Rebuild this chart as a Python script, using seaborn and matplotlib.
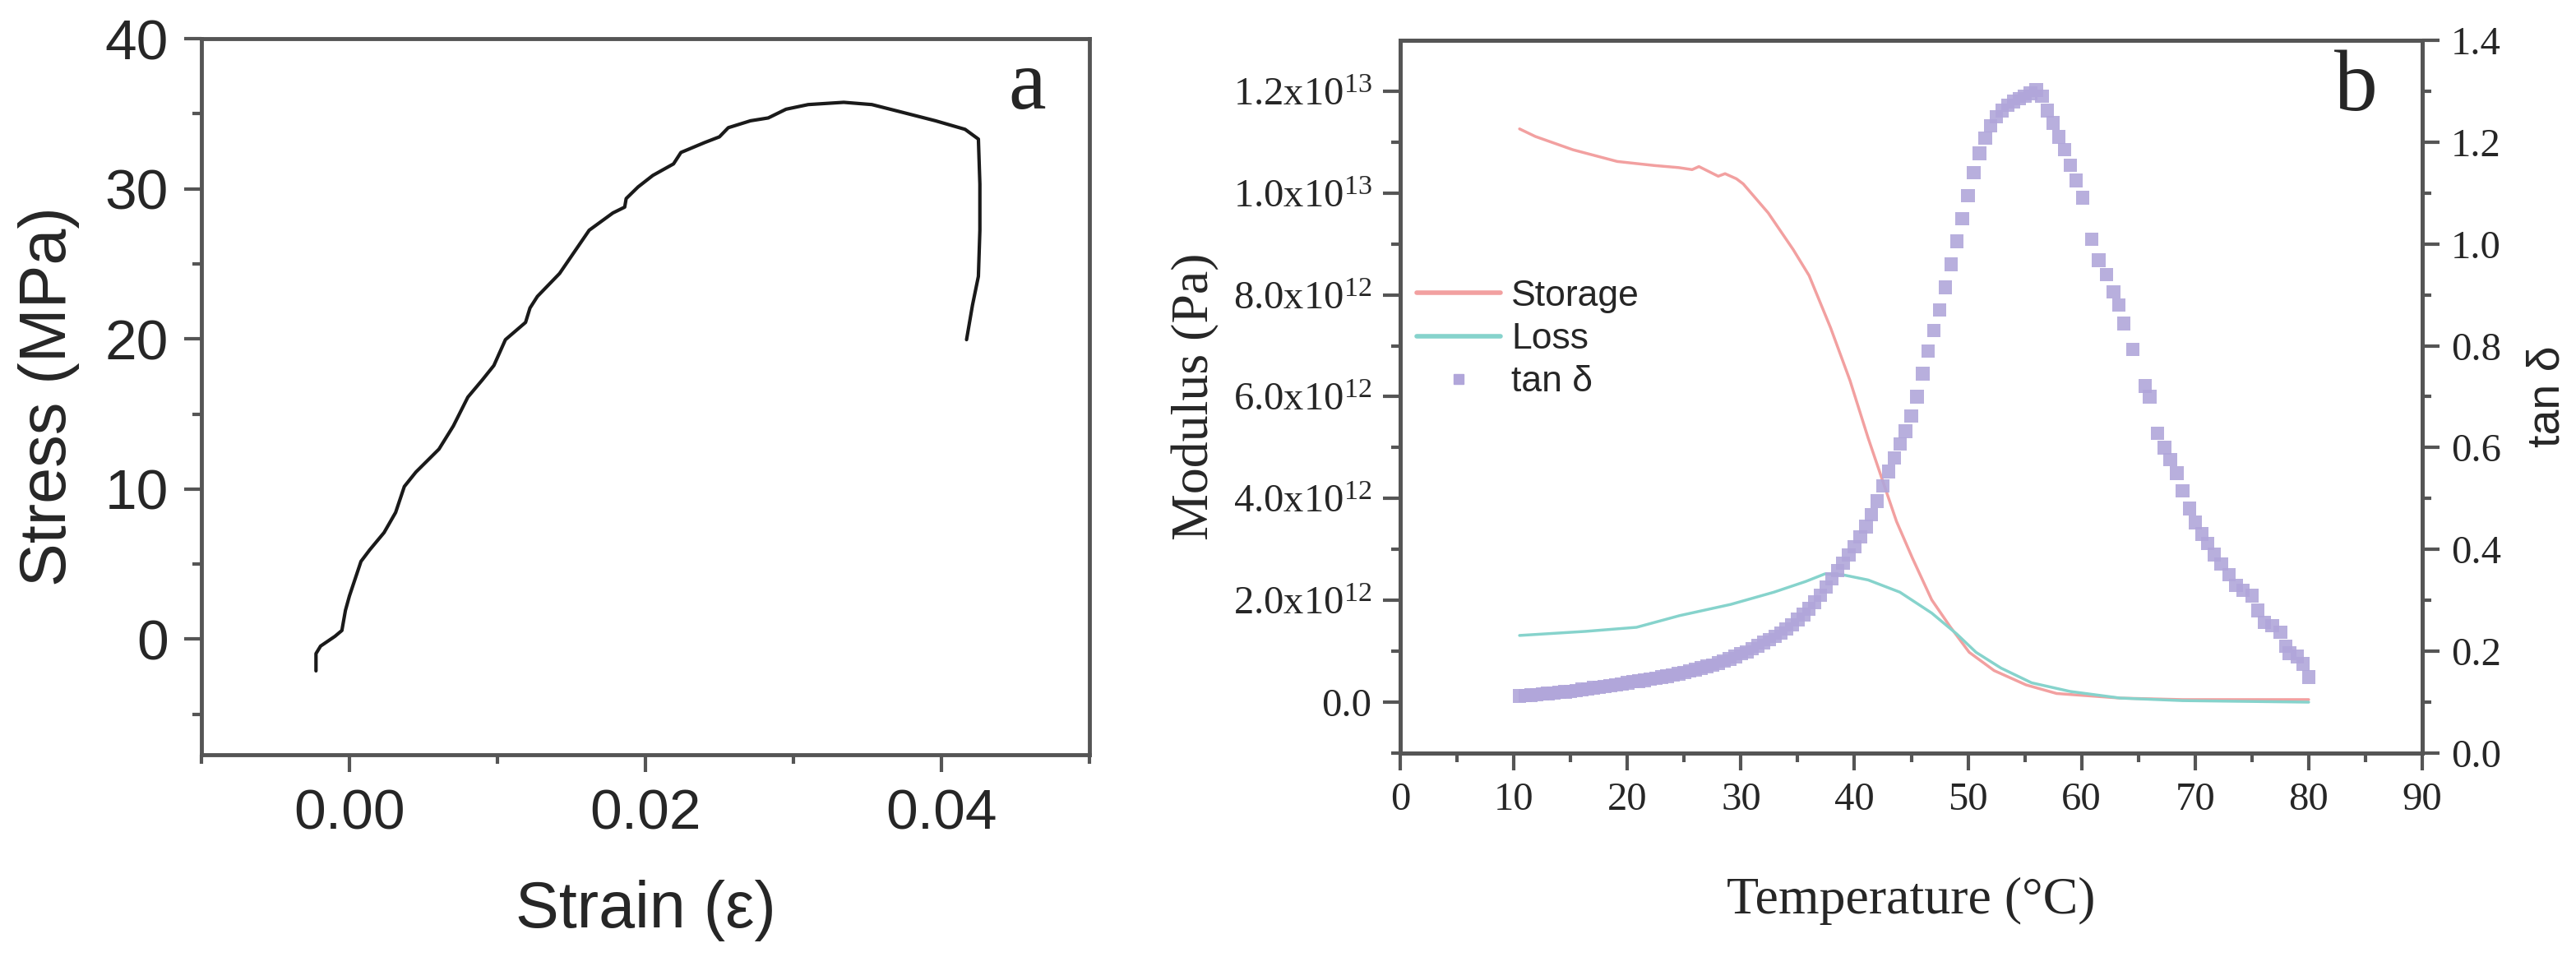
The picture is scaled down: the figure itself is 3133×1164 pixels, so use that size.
import numpy as np
import pandas as pd
import seaborn as sns
import matplotlib.pyplot as plt
from matplotlib.lines import Line2D

# panel a: stress-strain curve
strain = [-0.00226, -0.00226, -0.00195, -0.00098, -0.00051, -0.00027, 0.0, 0.00039,
          0.00078, 0.00137, 0.00234, 0.00312, 0.00371, 0.00449, 0.00605, 0.00702,
          0.00800, 0.00898, 0.00976, 0.01054, 0.0119, 0.0122, 0.0127, 0.0142,
          0.0162, 0.0178, 0.0186, 0.0187, 0.0195, 0.0205, 0.0219, 0.0224,
          0.0240, 0.0250, 0.0256, 0.0271, 0.0283, 0.0295, 0.0310, 0.0334,
          0.0353, 0.0373, 0.0396, 0.0416, 0.0425, 0.0426, 0.0426, 0.0425,
          0.0421, 0.0417]
stress = [-2.11, -0.96, -0.46, 0.19, 0.58, 1.92, 2.88, 4.03,
          5.18, 5.95, 7.10, 8.44, 10.17, 11.13, 12.66, 14.20,
          16.12, 17.27, 18.23, 19.95, 21.1, 22.06, 22.83, 24.36,
          27.24, 28.39, 28.78, 29.35, 30.12, 30.89, 31.66, 32.42,
          33.08, 33.46, 34.07, 34.53, 34.72, 35.30, 35.61, 35.76,
          35.61, 35.11, 34.53, 33.96, 33.31, 30.31, 27.24, 24.17,
          22.25, 19.95]

# panel b: DMA, modulus in units of 1e12 Pa
temp_storage = [10.5, 11.9, 15.2, 19.1, 22.4, 24.5, 25.7, 26.3, 28.0, 28.6, 29.6, 30.2,
                32.4, 34.6, 36.0, 37.9, 39.6, 41.2, 42.6, 43.7, 45.1, 46.8,
                48.4, 50.1, 52.3, 55.1, 57.8, 63.4, 68.9, 80.0]
storage = [11.26, 11.11, 10.85, 10.62, 10.54, 10.50, 10.46, 10.52, 10.33, 10.38, 10.28, 10.18,
           9.61, 8.89, 8.38, 7.35, 6.32, 5.19, 4.27, 3.55, 2.83, 2.01,
           1.49, 0.98, 0.62, 0.34, 0.17, 0.08, 0.05, 0.05]
temp_loss = [10.5, 16.3, 20.8, 24.6, 29.1, 32.9, 35.7, 37.4, 39.0, 41.2, 44.0, 46.8,
             49.0, 50.7, 52.9, 55.6, 59.0, 63.4, 68.9, 80.0]
loss = [1.31, 1.39, 1.47, 1.70, 1.92, 2.16, 2.37, 2.52, 2.50, 2.40, 2.16, 1.75,
        1.34, 0.98, 0.67, 0.38, 0.21, 0.08, 0.03, 0.0]
temp_tan = [10.5, 11.0, 11.5, 12.0, 12.5, 13.0, 13.5, 14.0, 14.5, 15.0, 15.5, 16.0,
            16.5, 17.0, 17.5, 18.0, 18.5, 19.0, 19.5, 20.0, 20.5, 21.0, 21.5, 22.0,
            22.5, 23.0, 23.5, 24.0, 24.5, 25.0, 25.5, 26.0, 26.5, 27.0, 27.5, 28.0,
            28.5, 29.0, 29.5, 30.0, 30.5, 31.0, 31.5, 32.0, 32.5, 33.0, 33.5, 34.0,
            34.5, 35.0, 35.5, 36.0, 36.5, 37.0, 37.5, 38.0, 38.5, 39.0, 39.5, 40.0,
            40.5, 41.0, 41.5, 42.0, 42.5, 43.0, 43.5, 44.0, 44.5, 45.0, 45.5, 46.0,
            46.5, 47.0, 47.5, 48.0, 48.5, 49.0, 49.5, 50.0, 50.5, 51.0, 51.5, 52.0,
            52.5, 53.0, 53.5, 54.0, 54.5, 55.0, 55.5, 56.0, 56.5, 57.0, 57.5, 58.0,
            58.5, 59.0, 59.5, 60.1, 60.9, 61.5, 62.2, 62.8, 63.3, 63.7, 64.5, 65.6,
            66.0, 66.7, 67.3, 67.8, 68.4, 68.9, 69.5, 70.0, 70.6, 71.1, 71.7, 72.3,
            73.0, 73.6, 74.2, 75.0, 75.5, 76.1, 76.8, 77.5, 78.0, 78.3, 79.0, 79.5, 80.0]
tan_delta = [0.112, 0.113, 0.114, 0.115, 0.116, 0.117, 0.118, 0.119, 0.120, 0.121, 0.123, 0.125,
             0.126, 0.128, 0.129, 0.131, 0.132, 0.134, 0.136, 0.138, 0.140, 0.141, 0.143, 0.145,
             0.147, 0.149, 0.151, 0.153, 0.156, 0.158, 0.161, 0.164, 0.167, 0.170, 0.173, 0.177,
             0.181, 0.185, 0.190, 0.195, 0.199, 0.205, 0.211, 0.217, 0.223, 0.229, 0.236, 0.244,
             0.252, 0.262, 0.272, 0.283, 0.296, 0.310, 0.326, 0.342, 0.358, 0.373, 0.389, 0.405,
             0.425, 0.445, 0.468, 0.495, 0.525, 0.553, 0.580, 0.607, 0.632, 0.662, 0.700, 0.745,
             0.790, 0.830, 0.870, 0.915, 0.960, 1.005, 1.050, 1.095, 1.140, 1.178, 1.208, 1.232,
             1.250, 1.262, 1.272, 1.280, 1.285, 1.290, 1.296, 1.302, 1.290, 1.262, 1.238, 1.210,
             1.185, 1.155, 1.125, 1.091, 1.009, 0.968, 0.940, 0.906, 0.880, 0.844, 0.793, 0.721,
             0.700, 0.628, 0.600, 0.576, 0.550, 0.515, 0.480, 0.453, 0.430, 0.412, 0.390, 0.371,
             0.350, 0.329, 0.320, 0.309, 0.280, 0.257, 0.250, 0.237, 0.210, 0.196, 0.190, 0.175, 0.149]

mod_ticks = [0, 2, 4, 6, 8, 10, 12]
mod_labels = ['0.0', r'$\mathregular{2.0x10^{12}}$', r'$\mathregular{4.0x10^{12}}$',
              r'$\mathregular{6.0x10^{12}}$', r'$\mathregular{8.0x10^{12}}$',
              r'$\mathregular{1.0x10^{13}}$', r'$\mathregular{1.2x10^{13}}$']

sns.set_style('ticks')
plt.rcParams['font.family'] = ['Liberation Sans', 'DejaVu Sans']
plt.rcParams['mathtext.fontset'] = 'custom'
plt.rcParams['mathtext.rm'] = 'Liberation Serif'
plt.rcParams['mathtext.it'] = 'Liberation Serif:italic'

spine_c = '#555555'
c_storage = '#f2a0a0'
c_loss = '#86d3cc'
c_tan = '#b1a6da'
serif = ['Liberation Serif', 'DejaVu Serif']
W, H = 3133, 1164

fig = plt.figure(figsize=(W / 100, H / 100), dpi=100)
ax1 = fig.add_axes([0.0782, 0.2113, 0.3447, 0.7483])
ax2 = fig.add_axes([0.5436, 0.2131, 0.3967, 0.7448])

# ---- panel a
df_a = pd.DataFrame({'strain': strain, 'stress': stress})
sns.lineplot(data=df_a, x='strain', y='stress', sort=False, estimator=None,
             color='#1a1a1a', linewidth=3, ax=ax1)
ax1.set_xlim(-0.01, 0.05)
ax1.set_ylim(-7.7, 40)
ax1.set_xticks([0.0, 0.02, 0.04])
ax1.set_xticklabels(['0.00', '0.02', '0.04'])
ax1.set_xticks([-0.01, 0.01, 0.03, 0.05], minor=True)
ax1.set_yticks([0, 10, 20, 30, 40])
ax1.set_yticks([-5, 5, 15, 25, 35], minor=True)
ax1.tick_params(axis='both', which='major', labelsize=50, length=15, width=3,
                color=spine_c, pad=14)
ax1.tick_params(axis='both', which='minor', length=8, width=3, color=spine_c)
ax1.set_xlabel('Strain (ε)', fontsize=57, labelpad=34)
ax1.set_ylabel('Stress (MPa)', fontsize=57, labelpad=22)
for s in ax1.spines.values():
    s.set_color(spine_c)
    s.set_linewidth(3.5)
fig.text(1249 / W, 1 - 132 / H, 'a', fontsize=74, family=serif,
         ha='center', va='baseline')

# ---- panel b
df_s = pd.DataFrame({'T': temp_storage, 'M': storage})
df_l = pd.DataFrame({'T': temp_loss, 'M': loss})
df_t = pd.DataFrame({'T': temp_tan, 'tan': tan_delta})
sns.lineplot(data=df_s, x='T', y='M', color=c_storage, linewidth=2.5, ax=ax2)
sns.lineplot(data=df_l, x='T', y='M', color=c_loss, linewidth=2.5, ax=ax2)
ax2.set_xlim(0, 90)
ax2.set_ylim(-1, 13)
ax2.set_xticks(range(0, 91, 10))
ax2.set_xticks(range(5, 90, 10), minor=True)
ax2.set_yticks(mod_ticks)
ax2.set_yticklabels(mod_labels)
ax2.set_yticks(range(-1, 13, 2), minor=True)
ax2.tick_params(axis='both', which='major', labelsize=35, length=15, width=3,
                color=spine_c, pad=10)
ax2.tick_params(axis='both', which='minor', length=8, width=3, color=spine_c)
for lab in ax2.get_xticklabels() + ax2.get_yticklabels():
    lab.set_family(serif)
ax2.set_ylabel('Modulus (Pa)', fontsize=46, family=serif, labelpad=12)

ax3 = ax2.twinx()
sns.scatterplot(data=df_t, x='T', y='tan', marker='s', s=140, color=c_tan,
                edgecolor='none', alpha=0.9, ax=ax3)
ax3.set_ylim(0, 1.4)
ax3.set_yticks(np.arange(0, 1.41, 0.2))
ax3.set_yticklabels(['0.0', '0.2', '0.4', '0.6', '0.8', '1.0', '1.2', '1.4'])
ax3.set_yticks(np.arange(0.1, 1.4, 0.2), minor=True)
ax3.tick_params(axis='y', which='major', labelsize=35, length=15, width=3,
                color=spine_c, pad=10)
ax3.tick_params(axis='y', which='minor', length=8, width=3, color=spine_c)
for lab in ax3.get_yticklabels():
    lab.set_family(serif)
ax3.set_ylabel('tan δ', fontsize=40, labelpad=22)
ax3.set_xlabel('')
ax2.set_xlabel('Temperature (°C)', fontsize=46, family=serif, labelpad=52)
for a in (ax2, ax3):
    for s in a.spines.values():
        s.set_color(spine_c)
        s.set_linewidth(3.5)
fig.text(2865 / W, 1 - 134 / H, 'b', fontsize=76, family=serif,
         ha='center', va='baseline')

handles = [Line2D([], [], color=c_storage, lw=4),
           Line2D([], [], color=c_loss, lw=4),
           Line2D([], [], color=c_tan, marker='s', ls='none', markersize=9)]
ax3.legend(handles, ['Storage', 'Loss', 'tan δ'], loc='upper left',
           bbox_to_anchor=(-0.002, 0.69), frameon=False, fontsize=32,
           handlelength=2.3, handletextpad=0.3, labelspacing=0.25, borderpad=0)

fig.savefig('out.png', dpi=100)
